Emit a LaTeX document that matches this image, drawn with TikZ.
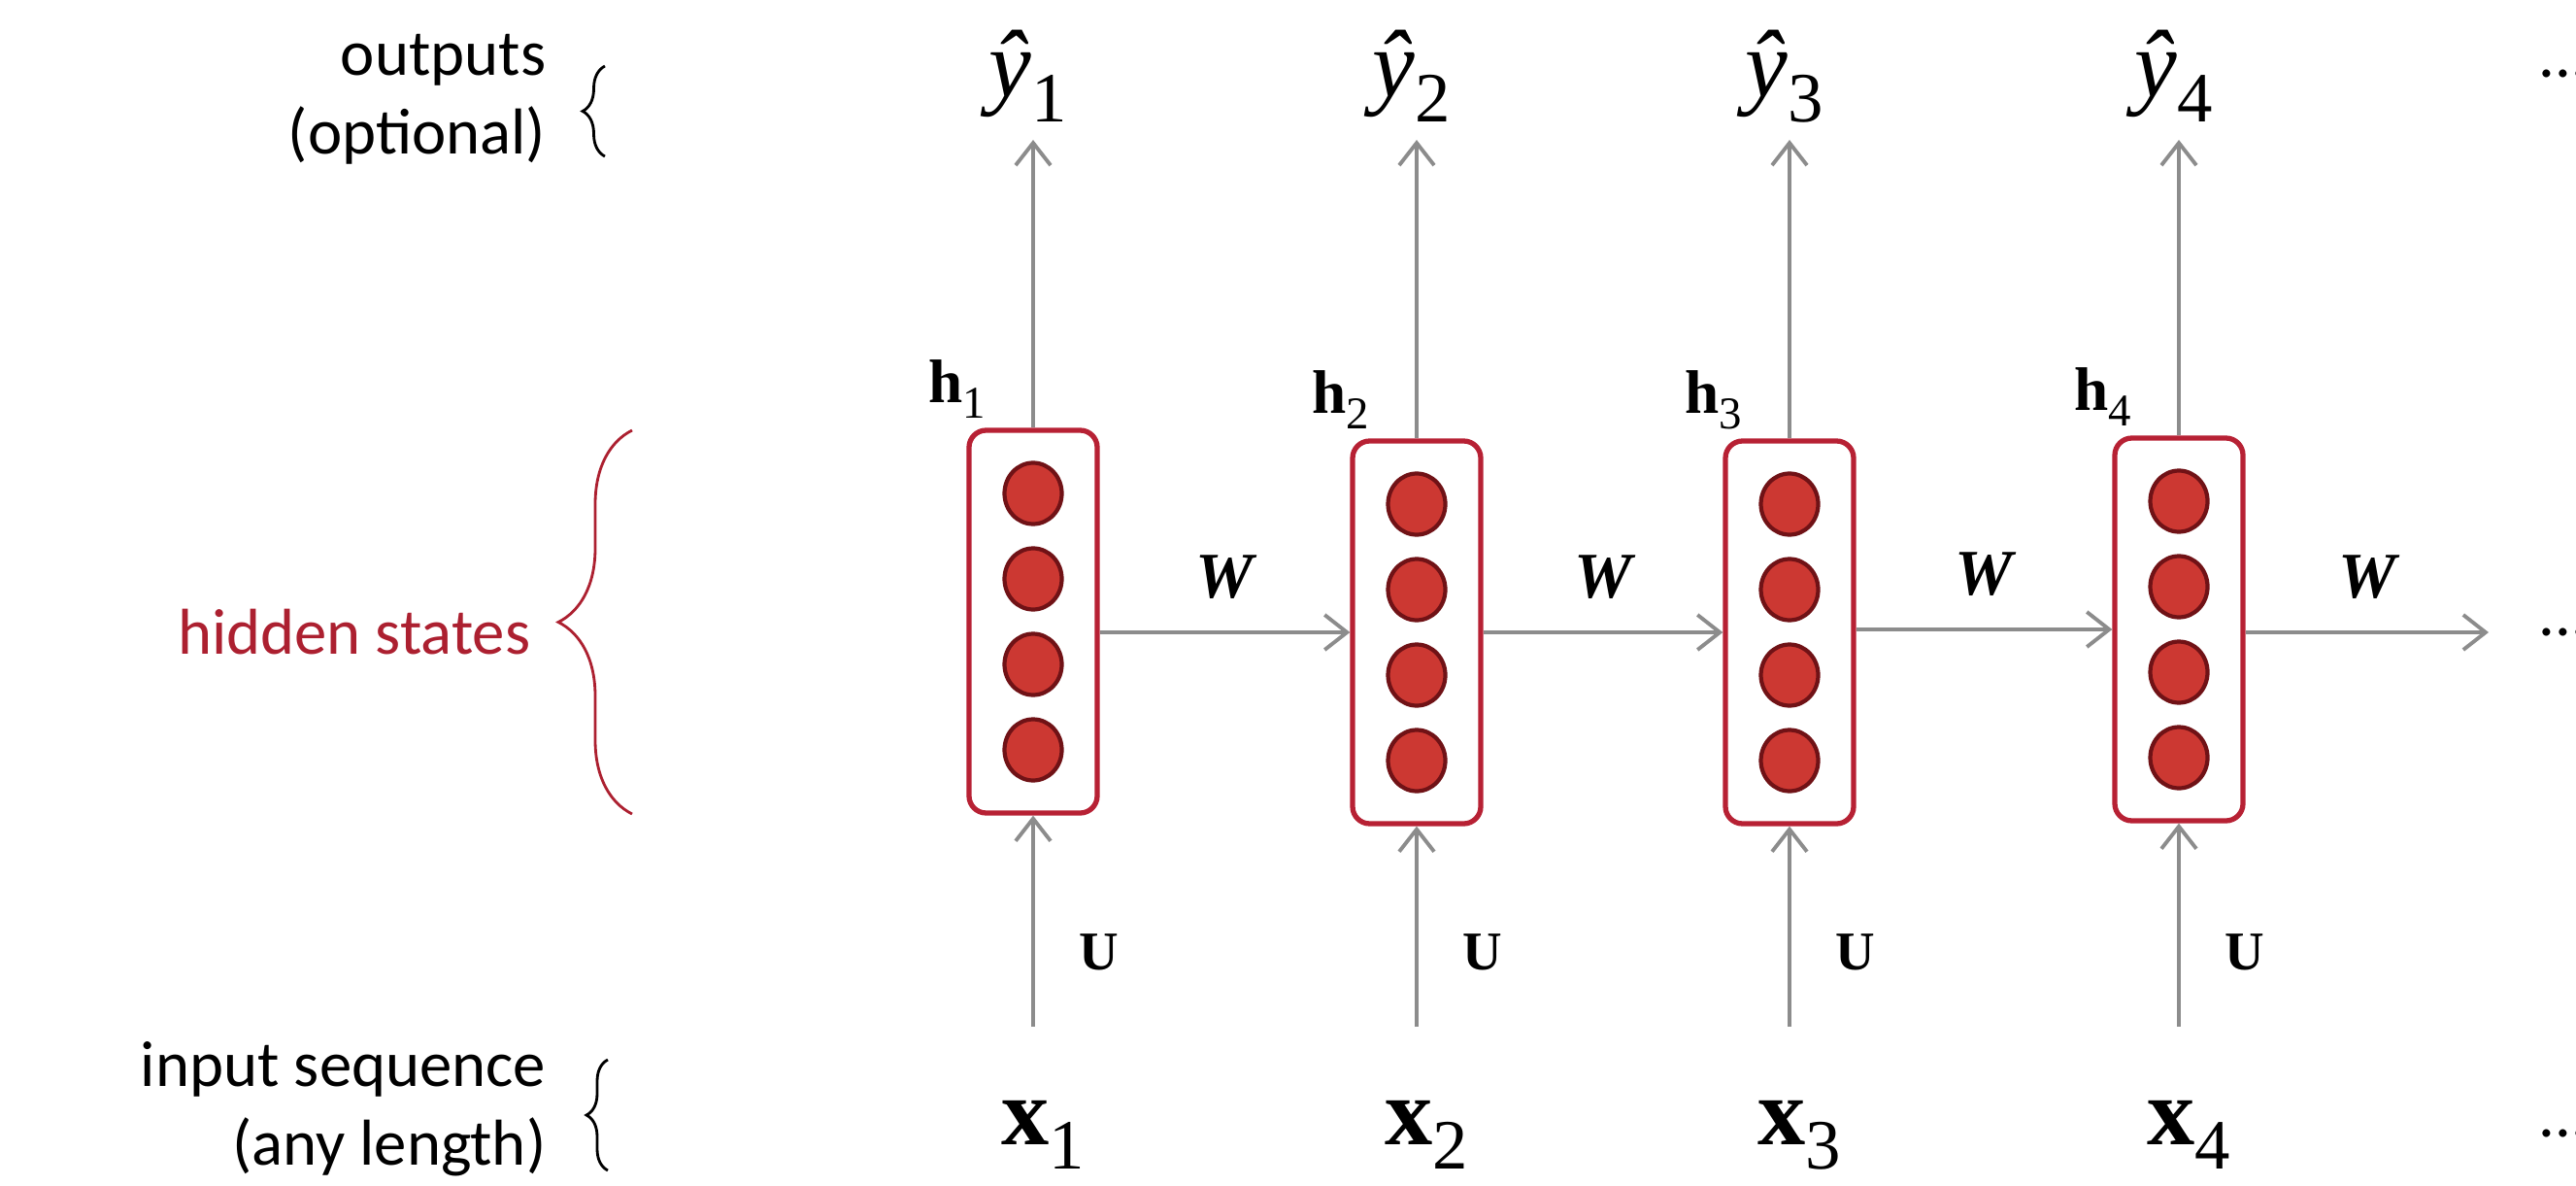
\documentclass[tikz,border=0pt]{standalone}
\usepackage{fontspec}
\usepackage{graphicx}
\setmainfont{Liberation Serif}
\newfontfamily\labelfont{Carlito}
\usetikzlibrary{
  arrows.meta,
  calc,
  decorations.pathreplacing,
  positioning,
  shapes.geometric
}
\definecolor{arrowgray}{RGB}{140,140,140}
\definecolor{cellred}{RGB}{183,33,52}
\definecolor{unitfill}{RGB}{204,56,50}
\definecolor{unitline}{RGB}{112,18,22}
\definecolor{hiddenred}{RGB}{172,32,48}
\tikzset{
  cell/.style={draw=cellred,line width=1.5pt,fill=white,rounded corners=5pt,
    minimum width=13.2mm,minimum height=39.4mm,inner sep=0pt},
  unit/.style={ellipse,draw=unitline,line width=1.2pt,fill=unitfill,
    minimum width=5.9mm,minimum height=6.3mm,inner sep=0pt},
  flow/.style={-{Straight Barb[length=2.3mm,width=3.6mm]},line width=1.1pt,
    draw=arrowgray},
  seqlab/.style={font=\fontsize{28}{32}\selectfont,inner sep=0pt},
  hlab/.style={font=\fontsize{18}{21}\selectfont,inner sep=0pt},
  wlab/.style={font=\fontsize{19}{22}\selectfont\bfseries\itshape,inner sep=0pt},
  ulab/.style={font=\fontsize{16}{19}\selectfont\bfseries,inner sep=0pt},
  side/.style={font=\labelfont\fontsize{19}{23}\selectfont,align=right,
    inner sep=0pt},
  sidebrace/.style={decorate,decoration={brace,amplitude=#1},line width=0.8pt},
  sidebrace/.default=2.3mm
}
\newcommand{\lowidx}[1]{\raisebox{-0.26em}{\scalebox{0.74}{\upshape\mdseries #1}}}

\begin{document}
\begin{tikzpicture}
  \useasboundingbox (0,0) rectangle (26.53,12.20);

  % recurrent cells with inputs and outputs
  \foreach \i/\x/\y in {1/10.64/5.80,2/14.59/5.69,3/18.43/5.69,4/22.44/5.72}{
    \node[cell] (cell\i) at (\x,\y) {};
    \foreach \j/\dy in {1/1.32,2/0.44,3/-0.44,4/-1.32}
      \node[unit] (unit\i\j) at (\x,\y+\dy) {};
    \coordinate (out\i) at (\x,10.76);
    \coordinate (src\i) at (\x,1.63);
    \node[seqlab,anchor=base] (yhat\i) at (\x-0.05,11.20)
      {\itshape\^{y}\lowidx{\i}};
    \node[seqlab,anchor=base] (xin\i) at (\x+0.1,0.42)
      {\textbf{x}\lowidx{\i}};
    \node[hlab,anchor=base east] (hlab\i)
      at ($(cell\i.north west)+(0.2,0.26)$) {\textbf{h}\lowidx{\i}};
    \node[ulab,anchor=base] (ulab\i) at (\x+0.68,2.22) {U};
    \draw[flow] (cell\i.north) -- (out\i);
    \draw[flow] (src\i) -- (cell\i.south);
  }

  \coordinate (next) at (25.63,5.69);
  \foreach \i/\j in {1/2,2/3,3/4}
    \draw[flow] (cell\i.east |- cell\j.west) -- (cell\j.west)
      node[wlab,midway,anchor=base,yshift=3.6mm] (wlab\i) {W};
  \draw[flow] (cell4.east |- next) -- (next)
    node[wlab,midway,anchor=base,yshift=3.6mm] (wlab4) {W};

  % side labels
  \node[side,anchor=east] (outlab) at (5.63,11.18) {outputs\\(optional)};
  \draw[sidebrace=2.3mm] (6.23,10.59) -- (6.23,11.52);
  \node[side,text=hiddenred,anchor=east] (hidlab) at (5.47,5.69) {hidden states};
  \draw[sidebrace=7.6mm,draw=hiddenred] (6.51,3.82) -- (6.51,7.77);
  \node[side,anchor=east] (inlab) at (5.63,0.78) {input sequence\\(any length)};
  \draw[sidebrace=2.2mm] (6.26,0.15) -- (6.26,1.29);

  \foreach \n/\y in {top/11.44,mid/5.69,bot/0.53}
    \node[side,anchor=west] (dots\n) at (26.14,\y) {...};
\end{tikzpicture}
\end{document}
